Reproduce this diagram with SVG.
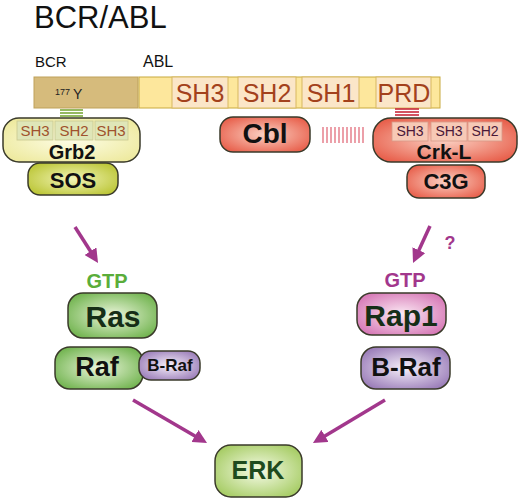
<svg xmlns="http://www.w3.org/2000/svg" width="520" height="502" viewBox="0 0 520 502">
<style>
text{font-family:"Liberation Sans",Arial,sans-serif}
.b{font-weight:bold;text-anchor:middle}
.box{stroke:#3a3a2a;stroke-width:1.5}
.abl{fill:#fbe6c8;stroke:#d8b860;stroke-width:1}
.ablt{fill:#a3411c;font-size:25px;text-anchor:middle}
.sg{fill:#dfe6b8;stroke:#c8c890;stroke-width:0.8}
.sgt{fill:#a0522d;font-size:15px;text-anchor:middle}
.sp{fill:#f7c9b6;stroke:#d89a88;stroke-width:0.8}
.spt{fill:#4a1838;font-size:14px;text-anchor:middle}
.arr{stroke:#a2378c;stroke-width:3.5;fill:none;marker-end:url(#ah)}
</style>
<defs>
<marker id="ah" markerUnits="userSpaceOnUse" markerWidth="14" markerHeight="14" viewBox="0 0 14 14" refX="3" refY="7" orient="auto"><path d="M0,0 L14,7 L0,14 z" fill="#a2378c"/></marker>
<radialGradient id="gGrb" cx="50%" cy="50%" r="60%"><stop offset="0" stop-color="#fdfde6"/><stop offset="1" stop-color="#eeeaa0"/></radialGradient>
<radialGradient id="gSos" cx="50%" cy="50%" r="60%"><stop offset="0" stop-color="#f2f5b8"/><stop offset="1" stop-color="#bcc637"/></radialGradient>
<radialGradient id="gRed" cx="50%" cy="50%" r="60%"><stop offset="0" stop-color="#fbd2c4"/><stop offset="1" stop-color="#e8604c"/></radialGradient>
<radialGradient id="gGreen" cx="50%" cy="50%" r="60%"><stop offset="0" stop-color="#ecf6dc"/><stop offset="1" stop-color="#72b450"/></radialGradient>
<radialGradient id="gErk" cx="50%" cy="50%" r="60%"><stop offset="0" stop-color="#f6fbe8"/><stop offset="1" stop-color="#a6cc64"/></radialGradient>
<radialGradient id="gPink" cx="50%" cy="50%" r="60%"><stop offset="0" stop-color="#fbeaf4"/><stop offset="1" stop-color="#d678b6"/></radialGradient>
<radialGradient id="gPurp" cx="50%" cy="50%" r="60%"><stop offset="0" stop-color="#f6f0fa"/><stop offset="1" stop-color="#9a7cb8"/></radialGradient>
</defs>
<rect width="520" height="502" fill="#fff"/>
<text x="34" y="28" font-size="31" fill="#111">BCR/ABL</text>
<g id="bcrabl">
<text x="35" y="67" font-size="15" fill="#111">BCR</text>
<text x="143" y="67" font-size="16" fill="#111">ABL</text>
<rect x="34" y="77" width="104" height="31" fill="#d6bb7c" stroke="#bfa15a" stroke-width="1"/>
<text x="55" y="95" font-size="9" fill="#222">177</text>
<text x="73" y="99" font-size="14" fill="#222">Y</text>
<rect x="139" y="77" width="301" height="31" fill="#fde79c" stroke="#c8a93e" stroke-width="1"/>
<rect class="abl" x="172" y="77" width="56" height="31"/>
<text class="ablt" x="200" y="102">SH3</text>
<rect class="abl" x="238" y="77" width="58" height="31"/>
<text class="ablt" x="267" y="102">SH2</text>
<rect class="abl" x="302" y="77" width="57" height="31"/>
<text class="ablt" x="331" y="102">SH1</text>
<rect class="abl" x="376" y="77" width="55" height="31"/>
<text class="ablt" x="404" y="102">PRD</text>
</g>
<g id="links">
<g stroke="#7aa83a" stroke-width="1.6"><line x1="60" y1="110" x2="83" y2="110"/><line x1="60" y1="113" x2="83" y2="113"/><line x1="60" y1="116" x2="83" y2="116"/></g>
<g stroke="#c8283a" stroke-width="1.6"><line x1="395" y1="109" x2="419" y2="109"/><line x1="395" y1="112" x2="419" y2="112"/><line x1="395" y1="115" x2="419" y2="115"/></g>
<g stroke="#e06070" stroke-width="1.2">
<line x1="323" y1="127" x2="323" y2="143"/><line x1="327" y1="127" x2="327" y2="143"/><line x1="331" y1="127" x2="331" y2="143"/><line x1="335" y1="127" x2="335" y2="143"/><line x1="339" y1="127" x2="339" y2="143"/><line x1="343" y1="127" x2="343" y2="143"/><line x1="347" y1="127" x2="347" y2="143"/><line x1="351" y1="127" x2="351" y2="143"/><line x1="355" y1="127" x2="355" y2="143"/><line x1="359" y1="127" x2="359" y2="143"/><line x1="363" y1="127" x2="363" y2="143"/>
</g>
</g>
<g id="grb2">
<rect class="box" x="3" y="118" width="137" height="44" rx="16" fill="url(#gGrb)"/>
<rect class="sg" x="17" y="121" width="36" height="19"/><text class="sgt" x="35" y="136">SH3</text>
<rect class="sg" x="55" y="121" width="38" height="19"/><text class="sgt" x="74" y="136">SH2</text>
<rect class="sg" x="95" y="121" width="33" height="19"/><text class="sgt" x="111" y="136">SH3</text>
<text class="b" x="72" y="159" font-size="20" fill="#111">Grb2</text>
</g>
<g id="sos">
<rect class="box" x="28" y="163" width="90" height="32" rx="12" fill="url(#gSos)"/>
<text class="b" x="73" y="188" font-size="22" fill="#111">SOS</text>
</g>
<g id="cbl">
<rect class="box" x="220" y="117" width="90" height="35" rx="13" fill="url(#gRed)"/>
<text class="b" x="265" y="143" font-size="28" fill="#111">Cbl</text>
</g>
<g id="crkl">
<rect class="box" x="373" y="118" width="144" height="44" rx="18" fill="url(#gRed)"/>
<rect class="sp" x="392" y="122" width="36" height="19"/><text class="spt" x="410" y="136">SH3</text>
<rect class="sp" x="431" y="122" width="36" height="19"/><text class="spt" x="449" y="136">SH3</text>
<rect class="sp" x="468" y="122" width="34" height="19"/><text class="spt" x="485" y="136">SH2</text>
<text class="b" x="444" y="159" font-size="21" fill="#111">Crk-L</text>
</g>
<g id="c3g">
<rect class="box" x="407" y="165" width="78" height="33" rx="12" fill="url(#gRed)"/>
<text class="b" x="446" y="189" font-size="22" fill="#111">C3G</text>
</g>
<g id="ras">
<text class="b" x="107" y="288" font-size="20" fill="#5aad3a">GTP</text>
<rect class="box" x="68" y="293" width="89" height="45" rx="15" fill="url(#gGreen)"/>
<text class="b" x="113" y="327" font-size="30" fill="#162e16">Ras</text>
</g>
<g id="raf">
<rect class="box" x="55" y="347" width="88" height="42" rx="15" fill="url(#gGreen)"/>
<text class="b" x="97" y="376" font-size="27" fill="#111">Raf</text>
</g>
<g id="braf-small">
<rect class="box" x="139" y="351" width="61" height="29" rx="12" fill="url(#gPurp)"/>
<text class="b" x="170" y="371" font-size="17" fill="#111">B-Raf</text>
</g>
<g id="rap1">
<text class="b" x="405" y="287" font-size="20" fill="#a2378c">GTP</text>
<rect class="box" x="357" y="293" width="89" height="42" rx="15" fill="url(#gPink)"/>
<text class="b" x="401" y="326" font-size="30" fill="#162e16">Rap1</text>
</g>
<g id="braf">
<rect class="box" x="361" y="347" width="89" height="42" rx="15" fill="url(#gPurp)"/>
<text class="b" x="406" y="376" font-size="26" fill="#111">B-Raf</text>
</g>
<g id="erk">
<rect class="box" x="215" y="445" width="87" height="52" rx="16" fill="url(#gErk)"/>
<text class="b" x="258" y="479" font-size="25" fill="#1e4a1e">ERK</text>
</g>
<g id="connectors">
<line class="arr" x1="75" y1="227" x2="92.1" y2="253.7"/>
<line class="arr" x1="430" y1="226" x2="417.6" y2="253"/>
<line class="arr" x1="133" y1="400" x2="197.5" y2="437.5"/>
<line class="arr" x1="385" y1="400" x2="322.4" y2="437.4"/>
<text class="b" x="450" y="249" font-size="18" fill="#a2378c">?</text>
</g>
</svg>
